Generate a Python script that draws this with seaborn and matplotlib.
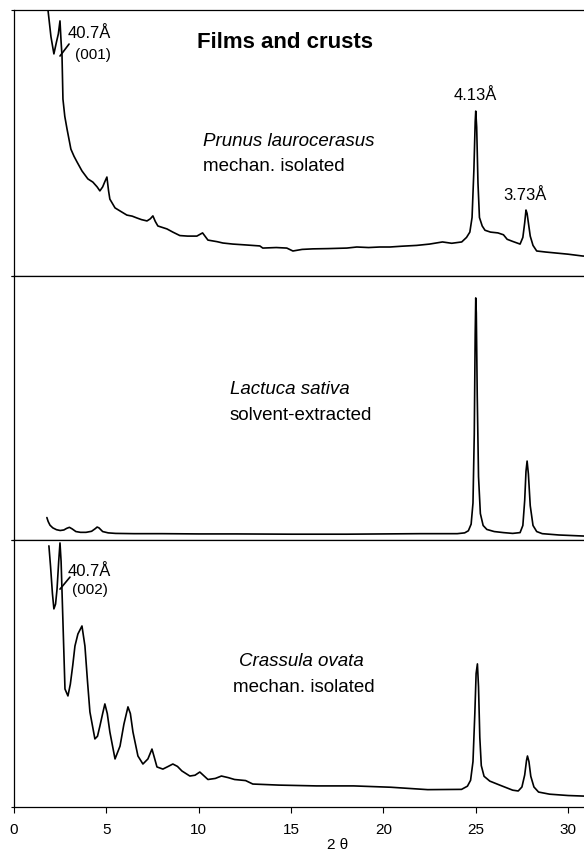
import numpy as np
import pandas as pd
import matplotlib
matplotlib.use("Agg")
import matplotlib.pyplot as plt
import seaborn as sns

# ---- data (2theta, relative intensity in % of panel height) ----
prunus_x = [1.78, 1.84, 2.0, 2.16, 2.30, 2.40, 2.49, 2.55, 2.60, 2.65, 2.75, 2.87, 3.08, 3.25, 3.41,
            3.68, 4.0, 4.27, 4.5, 4.65, 4.8, 4.92, 5.03, 5.12, 5.19, 5.47, 5.8, 6.11, 6.4, 6.66, 6.9,
            7.2, 7.38, 7.52, 7.65, 7.79, 8.28, 8.6, 8.98, 9.4, 9.9, 10.21, 10.5, 11.0, 11.31, 11.85,
            12.5, 13.31, 13.47, 14.2, 14.77, 15.1, 15.6, 16.18, 17.0, 18.02, 18.56, 19.2, 19.8,
            20.35, 21.0, 21.8, 22.5, 23.2, 23.7, 24.24, 24.5, 24.68, 24.8, 24.9, 24.97, 25.0, 25.05,
            25.12, 25.2, 25.35, 25.5, 25.8, 26.2, 26.5, 26.7, 27.0, 27.4, 27.55, 27.65, 27.72,
            27.78, 27.85, 27.95, 28.1, 28.3, 28.8, 29.4, 30.0, 30.8, 31.2]
prunus_y = [108, 100, 90, 83.5, 88, 91, 95.9, 88, 82.7, 66.5, 60, 55.3, 47.7, 45, 42.9,
            39.5, 36.5, 35.3, 33.5, 32.0, 33.5, 35.5, 37.2, 32, 28.9, 25.6, 24.2, 22.9, 22.5, 21.8, 21.2,
            20.7, 21.5, 22.6, 20.5, 18.8, 17.7, 16.5, 15.2, 15.0, 15.0, 16.2, 13.5, 12.9, 12.4, 12.0,
            11.7, 11.3, 10.5, 10.7, 10.5, 9.4, 10.0, 10.2, 10.3, 10.5, 10.9, 10.7, 10.9,
            10.9, 11.2, 11.5, 12.0, 12.8, 12.3, 12.8, 14.5, 16.5, 22, 40, 58, 62.0, 56,
            35, 22, 18.8, 17.2, 16.5, 16.2, 15.5, 13.8, 13.0, 12.0, 14.5, 20, 24.8,
            23.5, 20, 15, 11.5, 9.4, 9.0, 8.6, 8.2, 7.5, 7.4]

lactuca_x = [1.78, 1.85, 1.95, 2.1, 2.3, 2.5, 2.7, 2.85, 3.0, 3.15, 3.35, 3.6, 3.9, 4.2, 4.4, 4.5,
             4.6, 4.8, 5.1, 5.5, 6.5, 8.0, 10.0, 12.0, 15.0, 18.0, 20.0, 22.0, 24.0, 24.4, 24.6,
             24.75, 24.85, 24.92, 24.97, 25.0, 25.03, 25.08, 25.15, 25.25, 25.4, 25.6, 26.0, 26.5,
             27.0, 27.4, 27.55, 27.65, 27.72, 27.78, 27.85, 27.95, 28.1, 28.3, 28.6, 29.5, 30.5, 31.2]
lactuca_y = [8.5, 7.0, 5.6, 4.6, 3.9, 3.6, 3.8, 4.4, 4.8, 4.2, 3.2, 2.9, 2.9, 3.3, 4.3, 4.9,
             4.6, 3.2, 2.7, 2.5, 2.4, 2.4, 2.3, 2.3, 2.2, 2.2, 2.3, 2.4, 2.4, 2.7, 3.5,
             6, 14, 40, 78, 91.7, 86, 55, 24, 10, 5.5, 4.0, 3.2, 2.8,
             2.5, 2.8, 5.5, 15, 26, 29.9, 25, 13, 5.5, 3.2, 2.4, 1.9, 1.6, 1.4]

crassula_x = [1.89, 1.98, 2.08, 2.16, 2.25, 2.33, 2.42, 2.49, 2.55, 2.65, 2.76, 2.92, 3.05, 3.18,
              3.30, 3.46, 3.68, 3.84, 3.98, 4.11, 4.38, 4.52, 4.65, 4.80, 4.92, 5.05, 5.19, 5.47,
              5.74, 5.95, 6.17, 6.30, 6.44, 6.71, 6.98, 7.25, 7.47, 7.60, 7.74, 8.06, 8.35, 8.6,
              8.85, 9.09, 9.52, 9.8, 10.06, 10.5, 10.9, 11.23, 11.6, 11.94, 12.54, 12.93, 14.34,
              16.38, 18.39, 20.4, 22.4, 24.23, 24.55, 24.72, 24.85, 24.95, 25.02, 25.09, 25.15,
              25.22, 25.3, 25.45, 25.76, 26.3, 27.0, 27.3, 27.5, 27.65, 27.75, 27.8, 27.88, 27.98,
              28.15, 28.4, 29.0, 30.0, 30.8, 31.2]
crassula_y = [97.8, 90, 80, 74.2, 76, 81.6, 92, 98.9, 92, 69.3, 44.2, 41.6, 46, 53,
              60.3, 64.8, 67.8, 60.3, 47, 35.6, 25.5, 26.5, 30.3, 35, 38.6, 35, 28.1, 18.0,
              22.8, 31, 37.5, 35, 28.1, 19.1, 16.1, 18.0, 21.7, 18.5, 15.0, 14.2, 15.2, 16.1,
              15.2, 13.5, 11.6, 11.9, 13.1, 10.3, 10.7, 11.6, 11.0, 10.3, 9.9, 8.6, 8.2,
              7.9, 7.9, 7.4, 6.5, 6.6, 7.8, 10, 17, 35, 50, 53.6, 45,
              26, 15.5, 11.5, 9.7, 8.2, 6.3, 6.0, 7.5, 12, 17.5, 19.1, 17, 11.5,
              7.5, 5.6, 4.8, 4.3, 4.1, 4.0]

x_ticks = [0, 5, 10, 15, 20, 25, 30]

df = pd.concat([
    pd.DataFrame({"two_theta": prunus_x, "intensity": prunus_y, "sample": "Prunus"}),
    pd.DataFrame({"two_theta": lactuca_x, "intensity": lactuca_y, "sample": "Lactuca"}),
    pd.DataFrame({"two_theta": crassula_x, "intensity": crassula_y, "sample": "Crassula"}),
])

sns.set_style("white")
plt.rcParams["font.family"] = ["Liberation Sans", "DejaVu Sans"]
plt.rcParams["text.color"] = "black"
plt.rcParams["axes.labelcolor"] = "black"
plt.rcParams["xtick.color"] = "black"
plt.rcParams["ytick.color"] = "black"
plt.rcParams["axes.edgecolor"] = "black"

W, H = 584, 854
fig = plt.figure(figsize=(W / 100, H / 100), dpi=100)

x0 = 14
px_per_unit = 18.47
xmax = 35.0
left = x0 / W
width = xmax * px_per_unit / W

panels = [("Prunus", 11, 277), ("Lactuca", 277, 541), ("Crassula", 541, 808)]
axes = []
for name, top, bot in panels:
    ax = fig.add_axes([left, 1 - bot / H, width, (bot - top) / H])
    sub = df[df["sample"] == name]
    sns.lineplot(data=sub, x="two_theta", y="intensity", ax=ax, color="black",
                 linewidth=1.2, sort=False, estimator=None)
    ax.set_xlim(0, xmax)
    ax.set_ylim(0, 100)
    ax.set_xlabel("")
    ax.set_ylabel("")
    ax.set_yticks([0, 100])
    ax.set_yticklabels([])
    ax.tick_params(axis="y", direction="out", length=2.5, width=0.8, color="black", left=True)
    for s in ax.spines.values():
        s.set_color("black")
        s.set_linewidth(0.9)
    axes.append(ax)

for ax in axes[:2]:
    ax.set_xticks([])
ax = axes[2]
ax.set_xticks(x_ticks)
ax.set_xticklabels([str(t) for t in x_ticks], fontsize=11, color="black")
ax.tick_params(axis="x", direction="out", length=4.5, width=0.8, color="black", bottom=True, pad=6)
ax.set_xlabel("2 θ", fontsize=11, labelpad=1, color="black")

# --- annotations ---
a0, a1, a2 = axes
a0.text(14.67, 88, "Films and crusts", fontsize=16, fontweight="bold", ha="center", va="center")
a0.text(10.23, 50.8, "Prunus laurocerasus", fontsize=13.5, style="italic", ha="left", va="center")
a0.text(10.23, 41.4, "mechan. isolated", fontsize=13.5, ha="left", va="center")
a0.text(2.92, 91.7, "40.7Å", fontsize=12, ha="left", va="center")
a0.text(3.30, 83.5, "(001)", fontsize=11, ha="left", va="center")
a0.plot([2.49, 2.98], [82.7, 87.2], color="black", lw=1.2)
a0.text(25.0, 68.4, "4.13Å", fontsize=12, ha="center", va="center")
a0.text(27.67, 30.8, "3.73Å", fontsize=12, ha="center", va="center")

a1.text(11.69, 57.2, "Lactuca sativa", fontsize=13.5, style="italic", ha="left", va="center")
a1.text(11.69, 47.7, "solvent-extracted", fontsize=13.5, ha="left", va="center")

a2.text(12.18, 54.7, "Crassula ovata", fontsize=13.5, style="italic", ha="left", va="center")
a2.text(11.86, 45.3, "mechan. isolated", fontsize=13.5, ha="left", va="center")
a2.text(2.92, 88.4, "40.7Å", fontsize=12, ha="left", va="center")
a2.text(3.14, 81.6, "(002)", fontsize=11, ha="left", va="center")
a2.plot([2.49, 3.03], [81.6, 86.1], color="black", lw=1.2)

fig.savefig("out.png", dpi=100)
